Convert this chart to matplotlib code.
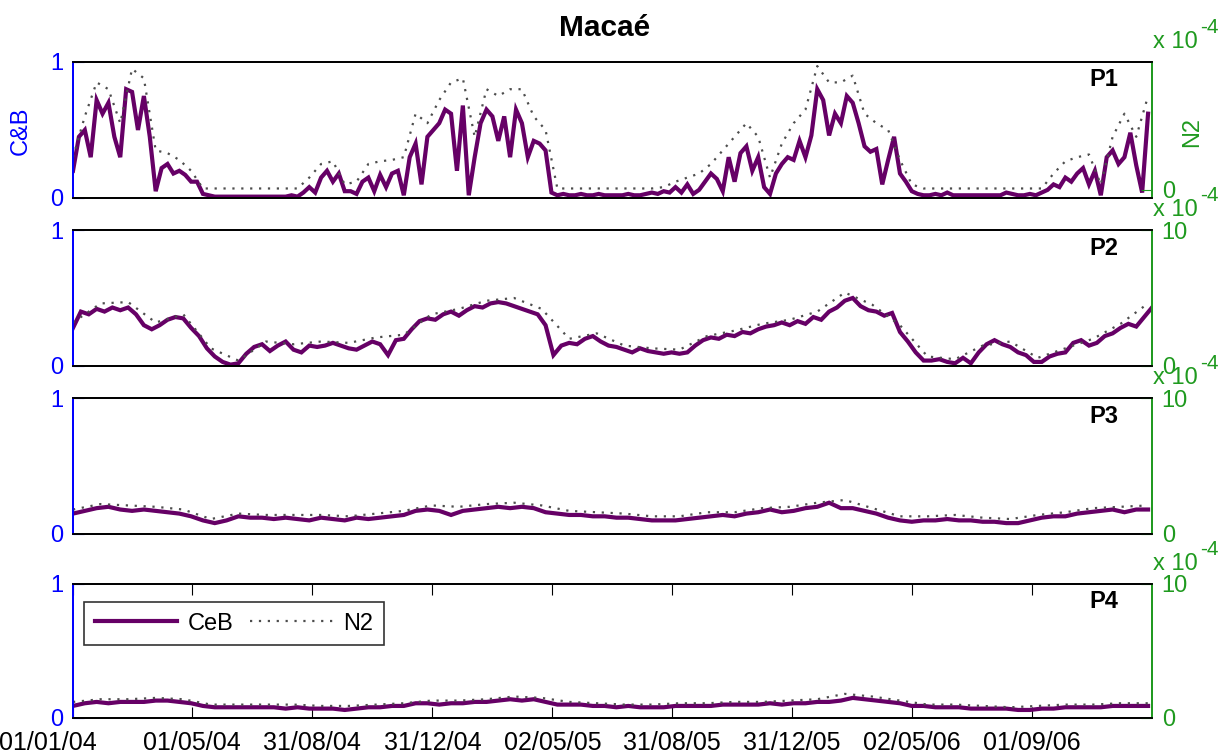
import numpy as np
import matplotlib
matplotlib.use("Agg")
import matplotlib.pyplot as plt
import matplotlib.transforms as mtransforms
from matplotlib.lines import Line2D

plt.rcParams['font.family'] = ['Liberation Sans', 'DejaVu Sans']

# ---------------- data ----------------
start_date = '2004-01-01'
end_date = '2007-01-01'

title = 'Macaé'
panel_names = ['P1', 'P2', 'P3', 'P4']

tick_dates = ['2004-01-01', '2004-05-01', '2004-08-31', '2004-12-31', '2005-05-02',
              '2005-08-31', '2005-12-31', '2006-05-02', '2006-09-01']
tick_labels = ['01/01/04', '01/05/04', '31/08/04', '31/12/04', '02/05/05',
               '31/08/05', '31/12/05', '02/05/06', '01/09/06']

# sampling step (days) of the read-off series
ceb_steps = [6, 8, 12, 12]
n2_steps = [12, 28, 28, 28]

# CeB (left axis, 0-1)
ceb_p1 = [0.20, 0.45, 0.50, 0.30, 0.72, 0.62, 0.70, 0.45, 0.30, 0.80,
          0.78, 0.50, 0.75, 0.45, 0.05, 0.22, 0.25, 0.18, 0.20, 0.17,
          0.12, 0.12, 0.03, 0.02, 0.01, 0.01, 0.01, 0.01, 0.01, 0.01,
          0.01, 0.01, 0.01, 0.01, 0.01, 0.01, 0.01, 0.02, 0.01, 0.04,
          0.08, 0.04, 0.15, 0.20, 0.12, 0.18, 0.05, 0.05, 0.03, 0.12,
          0.15, 0.05, 0.17, 0.08, 0.18, 0.20, 0.02, 0.30, 0.40, 0.10,
          0.45, 0.50, 0.55, 0.65, 0.62, 0.20, 0.68, 0.02, 0.30, 0.55,
          0.65, 0.60, 0.42, 0.60, 0.30, 0.65, 0.55, 0.30, 0.42, 0.40,
          0.35, 0.04, 0.02, 0.03, 0.02, 0.02, 0.03, 0.02, 0.02, 0.03,
          0.02, 0.02, 0.02, 0.02, 0.03, 0.02, 0.02, 0.03, 0.04, 0.03,
          0.05, 0.04, 0.08, 0.04, 0.10, 0.03, 0.06, 0.12, 0.18, 0.14,
          0.05, 0.30, 0.12, 0.33, 0.38, 0.20, 0.30, 0.08, 0.03, 0.18,
          0.25, 0.30, 0.28, 0.42, 0.30, 0.46, 0.80, 0.72, 0.46, 0.62,
          0.55, 0.75, 0.70, 0.55, 0.38, 0.34, 0.36, 0.10, 0.28, 0.45,
          0.18, 0.12, 0.05, 0.03, 0.02, 0.02, 0.03, 0.02, 0.04, 0.02,
          0.02, 0.02, 0.02, 0.02, 0.02, 0.02, 0.02, 0.02, 0.04, 0.03,
          0.02, 0.02, 0.03, 0.02, 0.04, 0.06, 0.10, 0.08, 0.15, 0.12,
          0.18, 0.22, 0.10, 0.20, 0.02, 0.30, 0.35, 0.25, 0.30, 0.48,
          0.24, 0.04, 0.62]

ceb_p2 = [0.28, 0.40, 0.38, 0.42, 0.40, 0.43, 0.41, 0.43, 0.38, 0.30,
          0.27, 0.30, 0.34, 0.36, 0.35, 0.28, 0.22, 0.13, 0.07, 0.03,
          0.01, 0.02, 0.09, 0.14, 0.16, 0.11, 0.15, 0.18, 0.12, 0.10,
          0.15, 0.14, 0.15, 0.17, 0.15, 0.13, 0.12, 0.15, 0.18, 0.16,
          0.08, 0.19, 0.20, 0.27, 0.33, 0.35, 0.34, 0.38, 0.40, 0.37,
          0.41, 0.44, 0.43, 0.46, 0.47, 0.46, 0.44, 0.42, 0.40, 0.38,
          0.30, 0.08, 0.15, 0.17, 0.16, 0.20, 0.22, 0.18, 0.15, 0.14,
          0.12, 0.10, 0.13, 0.11, 0.10, 0.09, 0.10, 0.09, 0.10, 0.15,
          0.19, 0.21, 0.20, 0.23, 0.22, 0.25, 0.24, 0.27, 0.29, 0.30,
          0.32, 0.30, 0.33, 0.31, 0.36, 0.34, 0.40, 0.43, 0.48, 0.50,
          0.44, 0.41, 0.40, 0.37, 0.39, 0.25, 0.18, 0.10, 0.04, 0.04,
          0.05, 0.03, 0.02, 0.06, 0.02, 0.10, 0.16, 0.19, 0.16, 0.14,
          0.10, 0.08, 0.03, 0.03, 0.07, 0.09, 0.10, 0.17, 0.19, 0.15,
          0.17, 0.22, 0.24, 0.28, 0.31, 0.29, 0.36, 0.43]

ceb_p3 = [0.15, 0.17, 0.19, 0.20, 0.18, 0.17, 0.18, 0.17, 0.16, 0.15,
          0.13, 0.10, 0.08, 0.10, 0.13, 0.12, 0.12, 0.11, 0.12, 0.11,
          0.10, 0.12, 0.11, 0.10, 0.12, 0.11, 0.12, 0.13, 0.14, 0.17,
          0.18, 0.17, 0.14, 0.17, 0.18, 0.19, 0.20, 0.19, 0.20, 0.19,
          0.16, 0.15, 0.14, 0.14, 0.13, 0.13, 0.12, 0.12, 0.11, 0.10,
          0.10, 0.10, 0.11, 0.12, 0.13, 0.14, 0.13, 0.15, 0.16, 0.18,
          0.16, 0.17, 0.19, 0.20, 0.23, 0.19, 0.19, 0.17, 0.15, 0.12,
          0.10, 0.09, 0.10, 0.10, 0.11, 0.10, 0.10, 0.09, 0.09, 0.08,
          0.08, 0.10, 0.12, 0.13, 0.13, 0.15, 0.16, 0.17, 0.18, 0.16,
          0.18, 0.18]

ceb_p4 = [0.09, 0.11, 0.12, 0.11, 0.12, 0.12, 0.12, 0.13, 0.13, 0.12,
          0.11, 0.09, 0.08, 0.08, 0.08, 0.08, 0.08, 0.08, 0.07, 0.08,
          0.07, 0.07, 0.07, 0.06, 0.07, 0.08, 0.08, 0.09, 0.09, 0.11,
          0.11, 0.10, 0.11, 0.11, 0.12, 0.12, 0.13, 0.14, 0.13, 0.14,
          0.12, 0.10, 0.10, 0.10, 0.09, 0.09, 0.08, 0.09, 0.08, 0.08,
          0.08, 0.09, 0.09, 0.09, 0.09, 0.10, 0.10, 0.10, 0.10, 0.11,
          0.10, 0.11, 0.11, 0.12, 0.12, 0.13, 0.15, 0.14, 0.13, 0.12,
          0.11, 0.09, 0.09, 0.08, 0.08, 0.08, 0.07, 0.07, 0.07, 0.07,
          0.06, 0.06, 0.07, 0.07, 0.08, 0.08, 0.08, 0.08, 0.09, 0.09,
          0.09, 0.09]

# N2 (right axis, units of 1e-4)
n2_p1 = [2.4, 5.4, 7.9, 7.4, 4.9, 8.9, 8.2, 2.9, 2.7, 2.2,
         1.4, 0.1, 0.1, 0.1, 0.1, 0.1, 0.1, 0.1, 0.1, 0.1,
         0.9, 1.9, 2.1, 0.4, 0.6, 1.9, 2.1, 2.2, 2.4, 5.6,
         4.9, 6.6, 7.9, 8.2, 3.9, 7.4, 6.9, 7.4, 7.4, 5.4,
         4.4, 0.1, 0.1, 0.1, 0.1, 0.1, 0.1, 0.1, 0.1, 0.1,
         0.2, 0.6, 0.9, 1.2, 1.9, 2.9, 3.9, 4.9, 3.9, 0.9,
         3.4, 4.9, 5.9, 9.1, 7.9, 7.9, 8.4, 5.6, 4.9, 4.4,
         2.2, 0.4, 0.1, 0.1, 0.1, 0.1, 0.1, 0.1, 0.1, 0.1,
         0.1, 0.1, 0.1, 1.2, 2.1, 2.4, 2.6, 0.4, 3.9, 5.6,
         3.9, 6.9]

n2_p2 = [3.2, 4.6, 4.7, 3.2, 3.8, 1.3, 0.4, 1.8, 1.6, 1.8,
         1.7, 2.1, 2.3, 3.8, 4.2, 4.8, 5.0, 4.2, 2.0, 2.4,
         1.5, 1.3, 1.2, 2.2, 2.6, 3.1, 3.4, 4.0, 5.4, 4.5,
         3.0, 0.7, 0.5, 1.5, 1.8, 0.6, 1.3, 2.0, 3.1, 4.6]

n2_p3 = [1.8, 2.2, 2.1, 2.0, 1.8, 1.1, 1.5, 1.4, 1.4, 1.4,
         1.3, 1.5, 1.7, 2.1, 2.0, 2.2, 2.3, 2.1, 1.7, 1.6,
         1.5, 1.3, 1.3, 1.6, 1.6, 1.9, 2.0, 2.3, 2.5, 1.9,
         1.3, 1.3, 1.4, 1.2, 1.1, 1.4, 1.6, 1.9, 2.0, 2.1]

n2_p4 = [1.2, 1.4, 1.4, 1.5, 1.4, 1.0, 1.0, 1.0, 1.0, 0.9,
         0.9, 1.0, 1.1, 1.3, 1.3, 1.4, 1.6, 1.5, 1.2, 1.1,
         1.0, 1.0, 1.1, 1.1, 1.2, 1.2, 1.3, 1.4, 1.8, 1.6,
         1.3, 1.0, 1.0, 0.9, 0.8, 0.9, 1.0, 1.0, 1.1, 1.1]

ceb_all = [ceb_p1, ceb_p2, ceb_p3, ceb_p4]
n2_all = [n2_p1, n2_p2, n2_p3, n2_p4]

# right axis settings per panel
n2_ylims = [(-0.6, 9.4), (0, 10), (0, 10), (0, 10)]
n2_ticks = [[0], [0, 10], [0, 10], [0, 10]]

# ---------------- style / layout ----------------
purple = '#660066'
gray = '#4d4d4d'
blue = '#0000ff'
green = '#1f9a1f'
FS = 17

W, H = 1226, 754
L, R = 73, 1152
boxes = [(62, 198), (230, 366), (398, 534), (584, 718)]

fig = plt.figure(figsize=(W / 100, H / 100), dpi=100)

start = np.datetime64(start_date)
end = np.datetime64(end_date)
tdates = np.array([np.datetime64(t) for t in tick_dates])

for i in range(4):
    top, bot = boxes[i]
    ax = fig.add_axes([L / W, 1 - bot / H, (R - L) / W, (bot - top) / H])
    d1 = start + np.arange(len(ceb_all[i])) * np.timedelta64(ceb_steps[i], 'D')
    ax.plot(d1, ceb_all[i], color=purple, lw=3.0, solid_joinstyle='miter')
    ax.set_xlim(start, end)
    ax.set_ylim(0, 1)
    ax.set_yticks([0, 1])
    ax.set_yticklabels(['0', '1'])
    ax.tick_params(axis='y', direction='in', length=8, colors=blue,
                   labelsize=FS, pad=7)

    ax2 = ax.twinx()
    d2 = start + np.arange(len(n2_all[i])) * np.timedelta64(n2_steps[i], 'D')
    ax2.plot(d2, n2_all[i], color=gray, lw=1.6, ls=(0, (1, 3)))
    ax2.set_ylim(*n2_ylims[i])
    ax2.set_yticks(n2_ticks[i])
    ax2.set_yticklabels([str(t) for t in n2_ticks[i]])
    ax2.tick_params(axis='y', direction='in', length=8, colors=green,
                    labelsize=FS, pad=7)
    ax.set_xlim(start, end)

    for a in (ax, ax2):
        a.spines['left'].set_color(blue)
        a.spines['right'].set_color(green)
        a.spines['top'].set_color('black')
        a.spines['bottom'].set_color('black')
        for s in a.spines.values():
            s.set_linewidth(1.3)

    if i < 3:
        ax.set_xticks([])
    else:
        ax.set_xticks(tdates)
        ax.set_xticklabels(tick_labels)
        ax.tick_params(axis='x', direction='in', length=8, top=True,
                       labelsize=18, pad=9, colors='black')
        first = ax.xaxis.get_major_ticks()[0].label1
        first.set_transform(first.get_transform() +
                            mtransforms.ScaledTranslation(-0.25, 0, fig.dpi_scale_trans))

    # multiplier "x 10^-4"
    ax2.annotate('x 10', xy=(1, 1), xycoords='axes fraction',
                 xytext=(1, 14), textcoords='offset pixels',
                 ha='left', va='baseline', color=green, fontsize=FS)
    ax2.annotate('-4', xy=(1, 1), xycoords='axes fraction',
                 xytext=(48, 29), textcoords='offset pixels',
                 ha='left', va='baseline', color=green, fontsize=15)

    ax2.text(1 - 34 / (R - L), 1 - 18 / (bot - top), panel_names[i],
             transform=ax2.transAxes, ha='right', va='center',
             fontsize=FS, fontweight='bold', color='black')

    if i == 3:
        handles = [Line2D([], [], color=purple, lw=3.0),
                   Line2D([], [], color=gray, lw=1.6, ls=(0, (1, 3)))]
        leg = ax2.legend(handles, ['CeB', 'N2'], loc='upper left',
                         bbox_to_anchor=((84 - L) / (R - L), 1 - (602 - top) / (bot - top)),
                         borderaxespad=0, ncol=2, fontsize=FS, frameon=True,
                         fancybox=False, edgecolor='black', handlelength=3.5,
                         handletextpad=0.45, columnspacing=0.7, borderpad=0.45)
        leg.get_frame().set_linewidth(1.2)

fig.text(605 / W, 1 - 28 / H, title, ha='center', va='center',
         fontsize=21.5, fontweight='bold')
fig.text(21 / W, 1 - 131 / H, 'C&B', rotation=90, ha='center', va='center',
         fontsize=FS, color=blue)
fig.text(1192 / W, 1 - 132 / H, 'N2', rotation=90, ha='center', va='center',
         fontsize=FS, color=green)

fig.savefig('out.png', dpi=100)
